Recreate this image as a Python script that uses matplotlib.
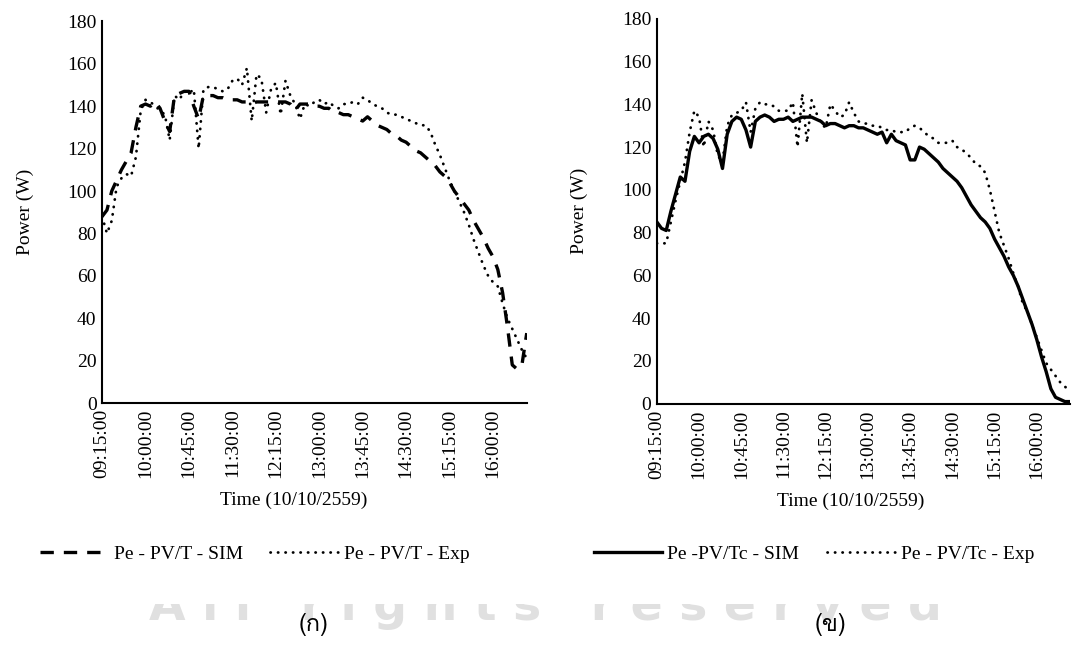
import numpy as np
import matplotlib.pyplot as plt
from matplotlib import font_manager
from matplotlib.ft2font import FT2Font
from matplotlib.transforms import Bbox, TransformedBbox

# minutes after 09:15, one reading every 5 minutes
minutes = np.arange(0, 445, 5)
tick_minutes = [0, 45, 90, 135, 180, 225, 270, 315, 360, 405]
tick_labels = ['09:15:00', '10:00:00', '10:45:00', '11:30:00', '12:15:00',
               '13:00:00', '13:45:00', '14:30:00', '15:15:00', '16:00:00']

# (a) PV/T
pvt_sim = [88, 91, 100, 105, 110, 114, 118, 130, 140, 141,
           140, 142, 139, 133, 128, 145, 146, 147, 147, 140,
           134, 145, 145, 145, 144, 144, 143, 143, 143, 142,
           142, 141, 142, 142, 142, 142, 142, 142, 142, 141,
           138, 141, 141, 141, 140, 140, 139, 139, 137, 137,
           136, 136, 135, 134, 133, 135, 133, 131, 130, 129,
           127, 126, 124, 123, 121, 119, 118, 116, 114, 112,
           109, 107, 104, 100, 97, 94, 91, 86, 82, 78,
           73, 69, 63, 52, 36, 18, 16, 18, 33]
pvt_exp = [88, 80, 86, 102, 106, 108, 107, 116, 138, 143,
           142, 140, 138, 136, 124, 145, 143, 147, 146, 148,
           120, 148, 149, 149, 148, 147, 148, 152, 153, 150,
           158, 133, 155, 153, 137, 148, 151, 136, 152, 145,
           141, 134, 141, 140, 142, 143, 141, 142, 140, 139,
           141, 141, 142, 141, 144, 143, 141, 140, 139, 137,
           136, 136, 135, 134, 133, 132, 131, 131, 128, 122,
           117, 111, 105, 100, 95, 90, 84, 77, 71, 65,
           60, 57, 55, 47, 40, 35, 30, 25, 21]

# (b) PV/Tc
pvtc_sim = [85, 82, 81, 90, 98, 106, 104, 118, 125, 122,
            125, 126, 124, 119, 110, 126, 132, 134, 133, 128,
            120, 132, 134, 135, 134, 132, 133, 133, 134, 132,
            133, 134, 134, 134, 133, 132, 130, 131, 131, 130,
            129, 130, 130, 129, 129, 128, 127, 126, 127, 122,
            126, 123, 122, 121, 114, 114, 120, 119, 117, 115,
            113, 110, 108, 106, 104, 101, 97, 93, 90, 87,
            85, 82, 77, 73, 69, 64, 60, 55, 49, 43,
            37, 30, 22, 15, 7, 3, 2, 1, 1]
pvtc_exp = [75, 75, 75, 85, 95, 104, 113, 127, 137, 134,
            120, 132, 128, 116, 113, 130, 135, 136, 137, 141,
            127, 138, 141, 140, 140, 139, 137, 137, 137, 141,
            120, 145, 122, 142, 136, 131, 129, 140, 137, 134,
            135, 141, 136, 132, 131, 131, 130, 130, 129, 128,
            128, 127, 127, 127, 129, 130, 129, 127, 125, 124,
            122, 122, 122, 123, 120, 119, 117, 115, 112, 111,
            108, 100, 90, 80, 74, 68, 61, 55, 47, 43,
            37, 31, 25, 19, 16, 13, 10, 8, 6]


def thai_font():
    # first installed family that carries Thai glyphs
    for f in font_manager.fontManager.ttflist:
        try:
            if 0x0E01 in FT2Font(f.fname).get_charmap():
                return f.name
        except Exception:
            pass
    return 'DejaVu Sans'


plt.rcParams['font.family'] = 'Liberation Serif'
plt.rcParams['font.size'] = 14

fig = plt.figure(figsize=(10.75, 6.47), dpi=100)
ax1 = fig.add_axes([0.095, 0.377, 0.395, 0.590])
ax2 = fig.add_axes([0.611, 0.376, 0.384, 0.595])

dots = (0, (0.1, 2.6))
ax1.plot(minutes, pvt_sim, color='black', lw=2.4, ls=(0, (4, 3)),
         label='Pe - PV/T - SIM')
ax1.plot(minutes, pvt_exp, color='black', lw=2.0, ls=dots,
         dash_capstyle='round', label='Pe - PV/T - Exp')
ax2.plot(minutes, pvtc_sim, color='black', lw=2.4,
         label='Pe -PV/Tc - SIM')
ax2.plot(minutes, pvtc_exp, color='black', lw=2.0, ls=dots,
         dash_capstyle='round', label='Pe - PV/Tc - Exp')

for ax, xlab in ((ax1, 0.452), (ax2, 0.47)):
    ax.set_xlim(0, 440)
    ax.set_ylim(0, 180)
    ax.set_yticks(range(0, 181, 20))
    ax.set_xticks(tick_minutes)
    ax.set_xticklabels(tick_labels, rotation=90)
    ax.tick_params(length=0, pad=4)
    for side in ('top', 'right'):
        ax.spines[side].set_visible(False)
    for side in ('left', 'bottom'):
        ax.spines[side].set_linewidth(1.5)
    ax.set_ylabel('Power (W)', labelpad=24)
    ax.set_xlabel('Time (10/10/2559)', labelpad=10, x=xlab)

leg_kw = dict(loc='center', ncol=2, frameon=False, handlelength=3.5,
              handletextpad=0.3, columnspacing=1.4, fontsize=14)
h, l = ax1.get_legend_handles_labels()
fig.legend(h, l, bbox_to_anchor=(0.237, 0.143), **leg_kw)
h, l = ax2.get_legend_handles_labels()
fig.legend(h, l, bbox_to_anchor=(0.757, 0.143), **leg_kw)

# faint watermark, only its lower strip shows along the bottom edge
wm = fig.text(0.507, 0.0417, 'A l l   r i g h t s   r e s e r v e d',
              fontsize=34, color='#e0e0e0', ha='center', va='baseline',
              family='DejaVu Sans', fontweight='bold', zorder=0)
wm.set_clip_box(TransformedBbox(Bbox([[0, 0.0155], [1, 0.066]]),
                                fig.transFigure))
wm.set_clip_on(True)

thai = thai_font()
fig.text(0.292, 0.035, '(ก)', fontsize=17, ha='center', va='center',
         family=[thai, 'DejaVu Sans'])
fig.text(0.773, 0.035, '(ข)', fontsize=17, ha='center', va='center',
         family=[thai, 'DejaVu Sans'])

fig.savefig('out.png', dpi=100, facecolor='white')
